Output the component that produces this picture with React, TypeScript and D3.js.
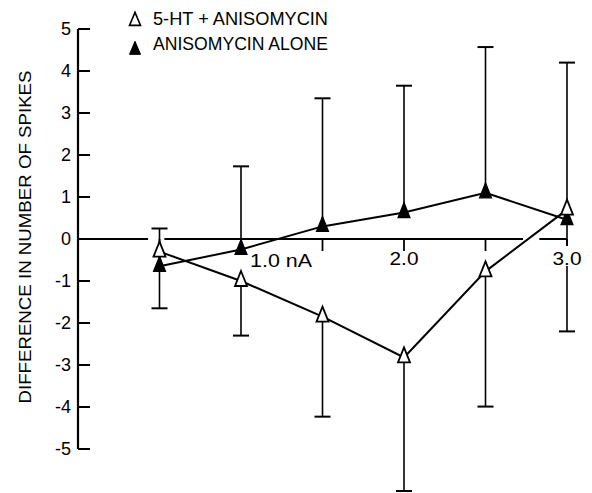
import React from "react";
import * as d3 from "d3";

// ---- data ----
const doses = [0.5, 1.0, 1.5, 2.0, 2.5, 3.0];
const htAniso = [-0.3, -1.0, -1.85, -2.82, -0.77, 0.7];
const htAnisoErr = [1.35, 1.3, 2.38, 3.18, 3.22, 2.9]; // drawn downward
const anisoAlone = [-0.65, -0.25, 0.3, 0.63, 1.1, 0.46];
const anisoAloneErr = [0.9, 1.98, 3.05, 3.02, 3.47, 3.74]; // drawn upward
const yTicks = [-5, -4, -3, -2, -1, 0, 1, 2, 3, 4, 5];
const xTicks = [0.5, 1.0, 1.5, 2.0, 2.5, 3.0];
const xLabels = [
  { v: 1.0, text: "1.0 nA" },
  { v: 2.0, text: "2.0" },
  { v: 3.0, text: "3.0" },
];
const legendLabels = ["5-HT + ANISOMYCIN", "ANISOMYCIN ALONE"];
const yTitle = "DIFFERENCE IN NUMBER OF SPIKES";
// pieces of the zero line (in nA), it is broken in two places
const zeroLinePieces: [number, number][] = [
  [0, 0.43],
  [0.53, 2.73],
  [2.83, 3.0],
];

const W = 592;
const H = 493;
const FONT = "'Liberation Sans', Arial, sans-serif";

const x = d3.scaleLinear().domain([0, 3]).range([78, 567]);
const y = d3.scaleLinear().domain([-5, 5]).range([449, 29]);

function triPath(cx: number, cy: number, w = 12, h = 15) {
  const p = d3.path();
  p.moveTo(cx, cy - (2 * h) / 3);
  p.lineTo(cx + w / 2, cy + h / 3);
  p.lineTo(cx - w / 2, cy + h / 3);
  p.closePath();
  return p.toString();
}

export default function App() {
  const line = d3
    .line<[number, number]>()
    .x((d) => x(d[0]))
    .y((d) => y(d[1]));

  const openPts = doses.map((d, i) => [d, htAniso[i]] as [number, number]);
  const filledPts = doses.map((d, i) => [d, anisoAlone[i]] as [number, number]);
  const capW = 16;

  return (
    <svg
      width={W}
      height={H}
      style={{ position: "absolute", left: 0, top: 0, background: "#fff" }}
      fontFamily={FONT}
    >
      <rect width={W} height={H} fill="#fff" />

      {/* Y axis */}
      <line x1={x(0)} x2={x(0)} y1={y(5)} y2={y(-5)} stroke="#000" strokeWidth={2.2} />
      {yTicks.map((t) => (
        <g key={t}>
          <line x1={x(0)} x2={x(0) + 12} y1={y(t)} y2={y(t)} stroke="#000" strokeWidth={2} />
          <text x={71} y={y(t) + 6} textAnchor="end" fontSize={18} fill="#000">
            {t < 0 ? "-" + Math.abs(t) : String(t)}
          </text>
        </g>
      ))}
      <text
        transform={`translate(31, ${y(0) - 2}) rotate(-90)`}
        textAnchor="middle"
        fontSize={17}
        textLength={333}
        lengthAdjust="spacingAndGlyphs"
        fill="#000"
      >
        {yTitle}
      </text>

      {/* zero line / x axis */}
      {zeroLinePieces.map(([a, b], i) => (
        <line key={i} x1={x(a)} x2={x(b)} y1={y(0)} y2={y(0)} stroke="#000" strokeWidth={2} />
      ))}
      {xTicks.map((t) => (
        <line key={t} x1={x(t)} x2={x(t)} y1={y(0)} y2={y(0) + 12} stroke="#000" strokeWidth={1.8} />
      ))}

      {/* error bars */}
      {doses.map((d, i) => {
        const cx = x(d);
        const y0 = y(htAniso[i]);
        const y1 = y(htAniso[i] - htAnisoErr[i]);
        return (
          <g key={"eo" + i}>
            <line x1={cx} x2={cx} y1={y0} y2={y1} stroke="#000" strokeWidth={1.6} />
            <line x1={cx - capW / 2} x2={cx + capW / 2} y1={y1} y2={y1} stroke="#000" strokeWidth={2} />
          </g>
        );
      })}
      {doses.map((d, i) => {
        const cx = x(d);
        const y0 = y(anisoAlone[i]);
        const y1 = y(anisoAlone[i] + anisoAloneErr[i]);
        return (
          <g key={"ef" + i}>
            <line x1={cx} x2={cx} y1={y0} y2={y1} stroke="#000" strokeWidth={1.6} />
            <line x1={cx - capW / 2} x2={cx + capW / 2} y1={y1} y2={y1} stroke="#000" strokeWidth={2} />
          </g>
        );
      })}

      {/* x labels (white box breaks the bar through 3.0) */}
      {xLabels.map((l) => {
        const isFirst = l.text === "1.0 nA";
        const isLast = l.v === 3.0;
        return (
          <g key={l.text}>
            {isLast && (
              <rect x={x(l.v) - 15} y={y(0) + 7} width={30} height={20} fill="#fff" />
            )}
            <text
              x={isFirst ? 250 : x(l.v)}
              y={isFirst ? 267 : 265}
              textAnchor={isFirst ? "start" : "middle"}
              fontSize={18}
              fill="#000"
              textLength={isFirst ? 62 : 29}
              lengthAdjust="spacingAndGlyphs"
            >
              {l.text}
            </text>
          </g>
        );
      })}

      {/* series lines */}
      <path d={line(openPts) || ""} fill="none" stroke="#000" strokeWidth={2} />
      <path d={line(filledPts) || ""} fill="none" stroke="#000" strokeWidth={2} />

      {/* markers */}
      {filledPts.map((p, i) => (
        <path key={"f" + i} d={triPath(x(p[0]), y(p[1]))} fill="#000" stroke="#000" strokeWidth={1.2} />
      ))}
      {openPts.map((p, i) => (
        <path key={"o" + i} d={triPath(x(p[0]), y(p[1]))} fill="#fff" stroke="#000" strokeWidth={1.8} />
      ))}

      {/* legend */}
      <path d={triPath(135, 21, 11, 13)} fill="#fff" stroke="#000" strokeWidth={1.6} />
      <text x={153} y={25} fontSize={18} textLength={175} lengthAdjust="spacingAndGlyphs" fill="#000">
        {legendLabels[0]}
      </text>
      <path d={triPath(135, 50, 11, 13)} fill="#000" stroke="#000" strokeWidth={1} />
      <text x={153} y={50} fontSize={18} textLength={175} lengthAdjust="spacingAndGlyphs" fill="#000">
        {legendLabels[1]}
      </text>
    </svg>
  );
}
